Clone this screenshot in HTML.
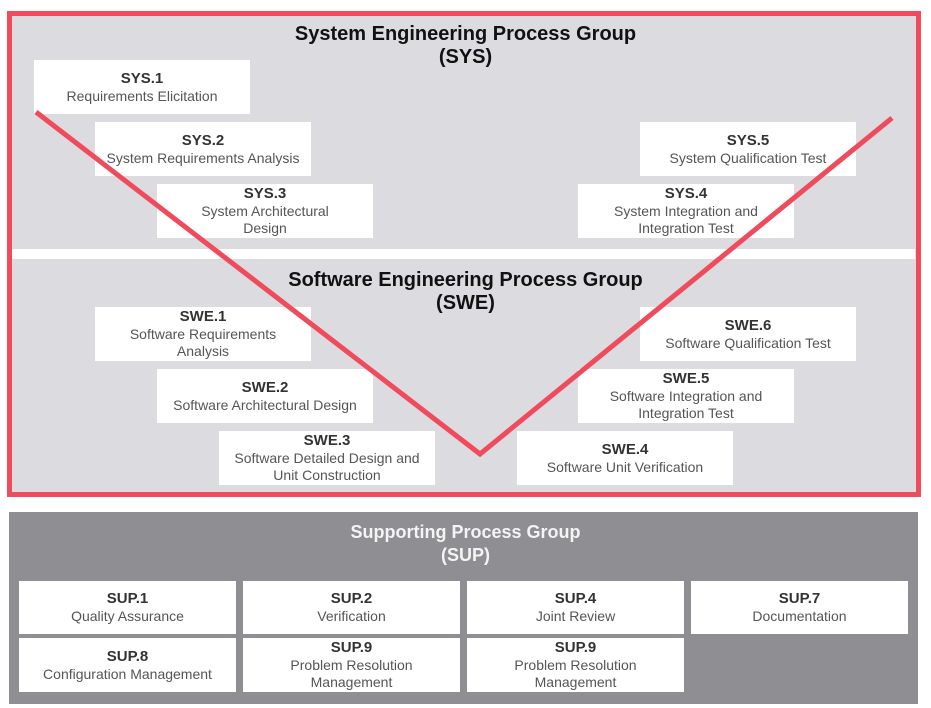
<!DOCTYPE html>
<html><head><meta charset="utf-8"><style>
*{margin:0;padding:0;box-sizing:border-box}
body{width:931px;height:708px;background:#fff;position:relative;overflow:hidden;font-family:"Liberation Sans",Arial,sans-serif}
.a{position:absolute}
.b{position:absolute;background:#fff;width:216px;height:54px;text-align:center;display:flex;flex-direction:column;justify-content:center;color:#555;font-size:14px;line-height:17px}
.b b{color:#333;font-size:15px;line-height:18px}
.t{position:absolute;left:14px;width:903px;text-align:center;font-weight:bold;font-size:20px;line-height:23px;color:#111}
</style></head><body>
<div class="a" style="left:7px;top:11px;width:914px;height:486px;border:5px solid #f04b5d;background:#dcdce0"></div>
<div class="a" style="left:12px;top:249px;width:903px;height:10px;background:#fff"></div>
<div class="t" style="top:23px">System Engineering Process Group<br>(SYS)</div>
<div class="t" style="top:269px">Software Engineering Process Group<br>(SWE)</div>
<div class="b" style="left:34px;top:60px"><b>SYS.1</b>Requirements Elicitation</div>
<div class="b" style="left:95px;top:122px"><b>SYS.2</b>System Requirements Analysis</div>
<div class="b" style="left:157px;top:184px"><b>SYS.3</b>System Architectural<br>Design</div>
<div class="b" style="left:640px;top:122px"><b>SYS.5</b>System Qualification Test</div>
<div class="b" style="left:578px;top:184px"><b>SYS.4</b>System Integration and<br>Integration Test</div>
<div class="b" style="left:95px;top:307px"><b>SWE.1</b>Software Requirements<br>Analysis</div>
<div class="b" style="left:157px;top:369px"><b>SWE.2</b>Software Architectural Design</div>
<div class="b" style="left:219px;top:431px"><b>SWE.3</b>Software Detailed Design and<br>Unit Construction</div>
<div class="b" style="left:640px;top:307px"><b>SWE.6</b>Software Qualification Test</div>
<div class="b" style="left:578px;top:369px"><b>SWE.5</b>Software Integration and<br>Integration Test</div>
<div class="b" style="left:517px;top:431px"><b>SWE.4</b>Software Unit Verification</div>
<svg class="a" style="left:0;top:0" width="931" height="708"><polyline points="36,112 480,454 892,118" fill="none" stroke="#f04b5d" stroke-width="5"/></svg>
<div class="a" style="left:9px;top:512px;width:909px;height:192px;background:#8e8e93"></div>
<div class="t" style="top:521px;color:#f4f4f4;font-size:18px">Supporting Process Group<br>(SUP)</div>
<div class="b" style="left:19px;top:581px;width:217px;height:53px"><b>SUP.1</b>Quality Assurance</div>
<div class="b" style="left:243px;top:581px;width:217px;height:53px"><b>SUP.2</b>Verification</div>
<div class="b" style="left:467px;top:581px;width:217px;height:53px"><b>SUP.4</b>Joint Review</div>
<div class="b" style="left:691px;top:581px;width:217px;height:53px"><b>SUP.7</b>Documentation</div>
<div class="b" style="left:19px;top:638px;width:217px;height:54px"><b>SUP.8</b>Configuration Management</div>
<div class="b" style="left:243px;top:638px;width:217px;height:54px"><b>SUP.9</b>Problem Resolution<br>Management</div>
<div class="b" style="left:467px;top:638px;width:217px;height:54px"><b>SUP.9</b>Problem Resolution<br>Management</div>
</body></html>
